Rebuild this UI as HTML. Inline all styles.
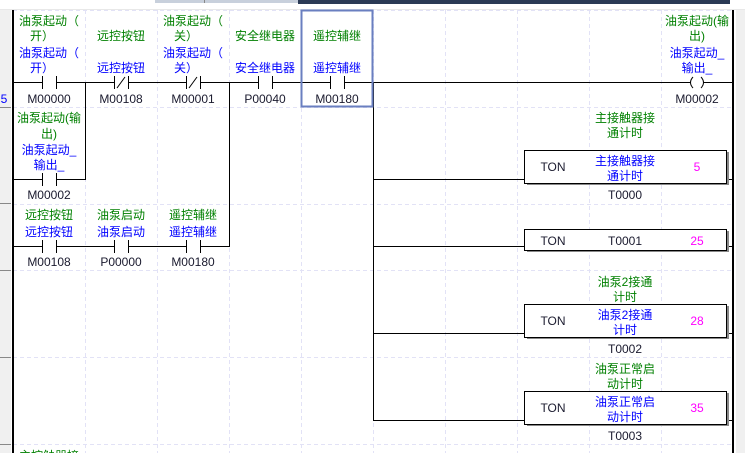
<!DOCTYPE html>
<html><head><meta charset="utf-8"><style>
html,body{margin:0;padding:0;background:#fff;}
svg{display:block;}
text{font-family:"Liberation Sans","Noto Sans CJK SC",sans-serif;font-size:12px;dominant-baseline:central;text-anchor:middle;}
.g{fill:#008000}.b{fill:#0000ff}.k{fill:#1a1a2e}.m{fill:#ff00ff}
</style></head><body>
<svg width="745" height="453" viewBox="0 0 745 453" xmlns="http://www.w3.org/2000/svg">
<rect x="0" y="0" width="745" height="453" fill="#fff"/>
<!-- top strip -->
<rect x="155" y="0" width="143" height="3" fill="#c8d0dc"/>
<rect x="204" y="0" width="1" height="3" fill="#888"/>
<rect x="298" y="0" width="432" height="4" fill="#2b3a55"/>
<rect x="0" y="9" width="745" height="1" fill="#e8e8e8"/>
<!-- left margin -->
<rect x="0" y="10" width="11" height="443" fill="#f0f0f0"/>
<rect x="736" y="10" width="9" height="443" fill="#f0f0f0"/>
<g stroke="#888" stroke-width="1">
<line x1="0" y1="107.5" x2="11" y2="107.5"/><line x1="0" y1="203.5" x2="11" y2="203.5"/>
<line x1="0" y1="270.5" x2="11" y2="270.5"/><line x1="0" y1="357.5" x2="11" y2="357.5"/>
<line x1="0" y1="444.5" x2="11" y2="444.5"/>
</g>
<text x="4" y="99" class="b" style="font-size:12px">5</text>
<!-- grid -->
<g stroke="#e2e2f6" stroke-width="1" stroke-dasharray="4,3">
<line x1="85.5" y1="10" x2="85.5" y2="453"/><line x1="157.5" y1="10" x2="157.5" y2="453"/>
<line x1="229.5" y1="10" x2="229.5" y2="453"/><line x1="301.5" y1="10" x2="301.5" y2="453"/>
<line x1="373.5" y1="10" x2="373.5" y2="453"/><line x1="445.5" y1="10" x2="445.5" y2="453"/>
<line x1="517.5" y1="10" x2="517.5" y2="453"/><line x1="589.5" y1="10" x2="589.5" y2="453"/>
<line x1="661.5" y1="10" x2="661.5" y2="453"/>
<line x1="13" y1="10.5" x2="732" y2="10.5"/><line x1="13" y1="107.5" x2="732" y2="107.5"/>
<line x1="13" y1="204.5" x2="732" y2="204.5"/><line x1="13" y1="270.5" x2="732" y2="270.5"/>
<line x1="13" y1="357.5" x2="732" y2="357.5"/><line x1="13" y1="444.5" x2="732" y2="444.5"/>
</g>
<!-- rails -->
<rect x="12" y="10" width="2" height="443" fill="#000"/>
<rect x="732" y="10" width="2" height="443" fill="#000"/>
<!-- wires -->
<g stroke="#000" stroke-width="1" fill="none">
<line x1="13" y1="82.5" x2="42" y2="82.5"/><line x1="56" y1="82.5" x2="114" y2="82.5"/>
<line x1="128" y1="82.5" x2="186" y2="82.5"/><line x1="200" y1="82.5" x2="258" y2="82.5"/>
<line x1="272" y1="82.5" x2="330" y2="82.5"/><line x1="344" y1="82.5" x2="690" y2="82.5"/>
<line x1="704" y1="82.5" x2="732" y2="82.5"/>
<line x1="13" y1="179.5" x2="42" y2="179.5"/><line x1="56" y1="179.5" x2="85.5" y2="179.5"/>
<line x1="85.5" y1="82" x2="85.5" y2="180"/>
<line x1="13" y1="246.5" x2="42" y2="246.5"/><line x1="56" y1="246.5" x2="114" y2="246.5"/>
<line x1="128" y1="246.5" x2="186" y2="246.5"/><line x1="200" y1="246.5" x2="229.5" y2="246.5"/>
<line x1="229.5" y1="82" x2="229.5" y2="247"/>
<line x1="373.5" y1="82" x2="373.5" y2="421"/>
<line x1="373" y1="179.5" x2="525" y2="179.5"/><line x1="727" y1="179.5" x2="732" y2="179.5"/>
<line x1="373" y1="246.5" x2="525" y2="246.5"/><line x1="727" y1="246.5" x2="732" y2="246.5"/>
<line x1="373" y1="333.5" x2="525" y2="333.5"/><line x1="727" y1="333.5" x2="732" y2="333.5"/>
<line x1="373" y1="420.5" x2="525" y2="420.5"/><line x1="727" y1="420.5" x2="732" y2="420.5"/>
</g>
<!-- contacts -->
<g stroke="#000" stroke-width="1">
<line x1="42.5" y1="76" x2="42.5" y2="89"/><line x1="56.5" y1="76" x2="56.5" y2="89"/>
<line x1="114.5" y1="76" x2="114.5" y2="89"/><line x1="128.5" y1="76" x2="128.5" y2="89"/><line x1="117" y1="88" x2="125" y2="77"/>
<line x1="186.5" y1="76" x2="186.5" y2="89"/><line x1="200.5" y1="76" x2="200.5" y2="89"/><line x1="189" y1="88" x2="197" y2="77"/>
<line x1="258.5" y1="76" x2="258.5" y2="89"/><line x1="272.5" y1="76" x2="272.5" y2="89"/>
<line x1="330.5" y1="76" x2="330.5" y2="89"/><line x1="344.5" y1="76" x2="344.5" y2="89"/>
<line x1="42.5" y1="173" x2="42.5" y2="186"/><line x1="56.5" y1="173" x2="56.5" y2="186"/>
<line x1="42.5" y1="240" x2="42.5" y2="253"/><line x1="56.5" y1="240" x2="56.5" y2="253"/>
<line x1="114.5" y1="240" x2="114.5" y2="253"/><line x1="128.5" y1="240" x2="128.5" y2="253"/>
<line x1="186.5" y1="240" x2="186.5" y2="253"/><line x1="200.5" y1="240" x2="200.5" y2="253"/>
</g>
<path d="M693 77 Q688 82.5 693 88 M701 77 Q706 82.5 701 88" stroke="#000" fill="none"/>
<!-- selection -->
<rect x="301.5" y="10.5" width="71" height="96" fill="none" stroke="#6a7fc0" stroke-width="2"/>
<!-- boxes -->
<g fill="#fff" stroke="#000" stroke-width="1">
<rect x="527" y="152" width="202" height="33" fill="#888" stroke="none"/>
<rect x="524.5" y="150.5" width="202" height="33"/>
<rect x="527" y="231" width="202" height="21" fill="#888" stroke="none"/>
<rect x="524.5" y="229.5" width="202" height="21"/>
<rect x="527" y="306" width="202" height="33" fill="#888" stroke="none"/>
<rect x="524.5" y="304.5" width="202" height="33"/>
<rect x="527" y="393" width="202" height="33" fill="#888" stroke="none"/>
<rect x="524.5" y="391.5" width="202" height="33"/>
</g>
<!-- row1 texts -->
<text x="49" y="21" class="g">油泵起动（</text><text x="42" y="36" class="g">开）</text>
<text x="49" y="53" class="b">油泵起动（</text><text x="42" y="68" class="b">开）</text>
<text x="121" y="36" class="g">远控按钮</text><text x="121" y="68" class="b">远控按钮</text>
<text x="193" y="21" class="g">油泵起动（</text><text x="186" y="36" class="g">关）</text>
<text x="193" y="53" class="b">油泵起动（</text><text x="186" y="68" class="b">关）</text>
<text x="265" y="36" class="g">安全继电器</text><text x="265" y="68" class="b">安全继电器</text>
<text x="337" y="36" class="g">遥控辅继</text><text x="337" y="68" class="b">遥控辅继</text>
<text x="49" y="99" class="k">M00000</text><text x="121" y="99" class="k">M00108</text>
<text x="193" y="99" class="k">M00001</text><text x="265" y="99" class="k">P00040</text>
<text x="337" y="99" class="k">M00180</text>
<text x="697" y="21" class="g">油泵起动(输</text><text x="697" y="36" class="g">出)</text>
<text x="697" y="53" class="b">油泵起动_</text><text x="697" y="68" class="b">输出_</text>
<text x="697" y="99" class="k">M00002</text>
<!-- row2 -->
<text x="49" y="118" class="g">油泵起动(输</text><text x="49" y="134" class="g">出)</text>
<text x="49" y="150" class="b">油泵起动_</text><text x="49" y="165" class="b">输出_</text>
<text x="49" y="195" class="k">M00002</text>
<!-- row3 -->
<text x="49" y="215" class="g">远控按钮</text><text x="49" y="232" class="b">远控按钮</text>
<text x="121" y="215" class="g">油泵启动</text><text x="121" y="232" class="b">油泵启动</text>
<text x="193" y="215" class="g">遥控辅继</text><text x="193" y="232" class="b">遥控辅继</text>
<text x="49" y="262" class="k">M00108</text><text x="121" y="262" class="k">P00000</text><text x="193" y="262" class="k">M00180</text>
<!-- timers -->
<text x="625" y="118" class="g">主接触器接</text><text x="625" y="133" class="g">通计时</text>
<text x="553" y="167" class="k">TON</text><text x="625" y="161" class="b">主接触器接</text><text x="625" y="176" class="b">通计时</text>
<text x="697" y="167" class="m">5</text><text x="625" y="195" class="k">T0000</text>
<text x="553" y="241" class="k">TON</text><text x="625" y="241" class="k">T0001</text><text x="697" y="241" class="m">25</text>
<text x="625" y="282" class="g">油泵2接通</text><text x="625" y="297" class="g">计时</text>
<text x="553" y="321" class="k">TON</text><text x="625" y="315" class="b">油泵2接通</text><text x="625" y="330" class="b">计时</text>
<text x="697" y="321" class="m">28</text><text x="625" y="349" class="k">T0002</text>
<text x="625" y="369" class="g">油泵正常启</text><text x="625" y="384" class="g">动计时</text>
<text x="553" y="408" class="k">TON</text><text x="625" y="402" class="b">油泵正常启</text><text x="625" y="417" class="b">动计时</text>
<text x="697" y="408" class="m">35</text><text x="625" y="436" class="k">T0003</text>
<text x="49" y="456" class="g">主控触器接</text>
</svg>
</body></html>
